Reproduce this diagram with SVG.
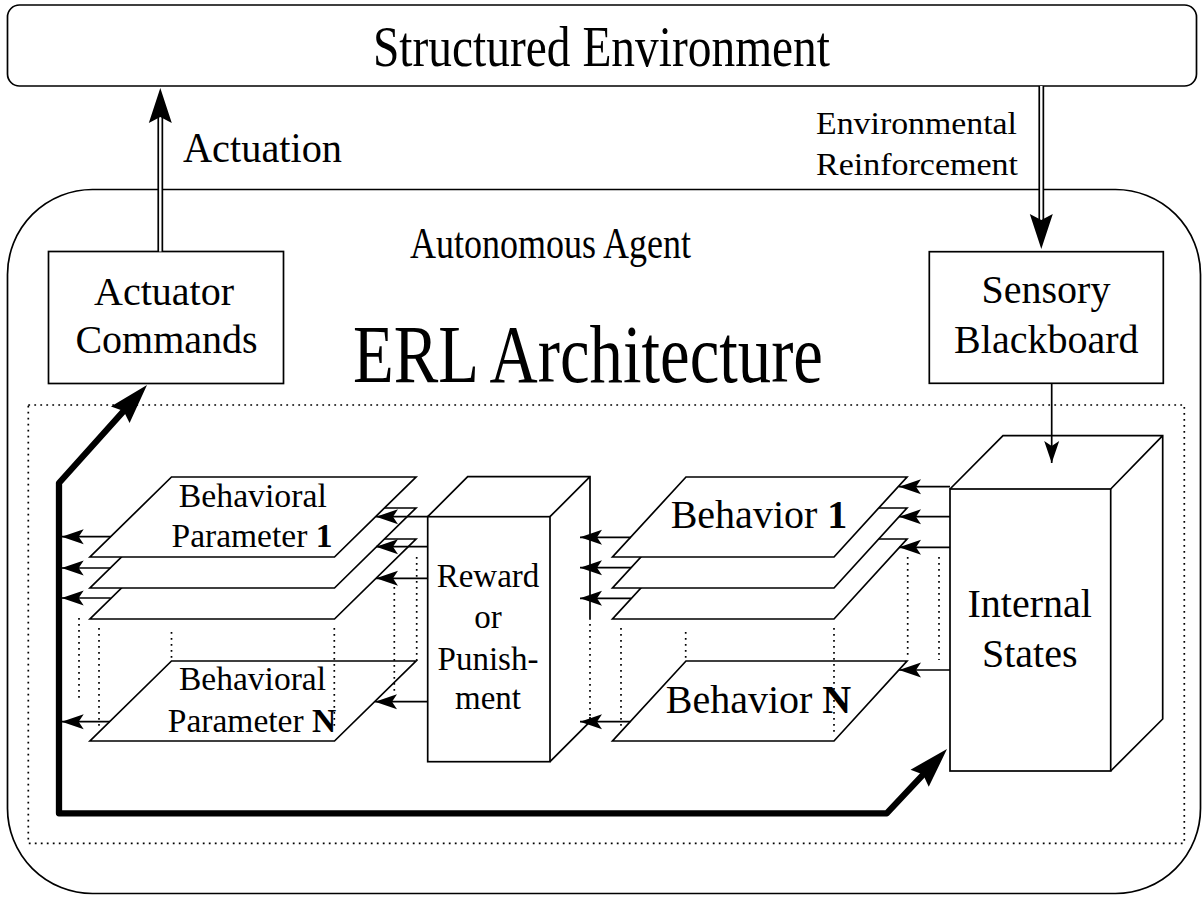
<svg xmlns="http://www.w3.org/2000/svg" width="1202" height="897" viewBox="0 0 1202 897">
<style>
.ln{fill:none;stroke:#000;stroke-width:1.7}
.box{fill:#fff;stroke:#000;stroke-width:1.7}
.face{fill:#fff;stroke:none}
.dot{fill:none;stroke:#000;stroke-width:1.7;stroke-dasharray:1.8 4.2}
.thick{fill:none;stroke:#000;stroke-width:6.3;stroke-linejoin:round}
.dblo{fill:none;stroke:#000;stroke-width:5.8}
.dbli{fill:none;stroke:#fff;stroke-width:2.4}
.c{text-anchor:middle}
.b{font-weight:bold}
</style>
<defs>
<marker id="ah" markerUnits="userSpaceOnUse" markerWidth="30" markerHeight="20" refX="0" refY="0" orient="auto" overflow="visible"><path d="M0,0 L-22,-7.5 L-17,0 L-22,7.5 Z" fill="#000"/></marker>
<marker id="bh" markerUnits="userSpaceOnUse" markerWidth="50" markerHeight="30" refX="0" refY="0" orient="auto-start-reverse" overflow="visible"><path d="M25,0 L-15,-12.5 L-10,0 L-15,12.5 Z" fill="#000"/></marker>
<marker id="dh" markerUnits="userSpaceOnUse" markerWidth="40" markerHeight="30" refX="0" refY="0" orient="auto" overflow="visible"><path d="M20,0 L-15,-11.5 L-9,0 L-15,11.5 Z" fill="#000"/></marker>
</defs>
<rect width="1202" height="897" fill="#fff"/>

<g font-family="Liberation Serif, Times New Roman, serif" fill="#000">
<g id="environment">
<rect class="box" x="7.5" y="5" width="1189" height="81" rx="12"/>
<text class="c" x="601.5" y="66" font-size="56" textLength="457" lengthAdjust="spacingAndGlyphs">Structured Environment</text>
</g>

<g id="agent">
<rect class="box" x="7.5" y="189.5" width="1193" height="704" rx="85"/>
<text class="c" x="550.5" y="258.3" font-size="45" textLength="281" lengthAdjust="spacingAndGlyphs">Autonomous Agent</text>
</g>

<g id="labels">
<text x="183" y="161.7" font-size="42" textLength="159" lengthAdjust="spacingAndGlyphs">Actuation</text>
<text x="816" y="134" font-size="32" textLength="201" lengthAdjust="spacingAndGlyphs">Environmental</text>
<text x="816" y="175" font-size="32" textLength="202" lengthAdjust="spacingAndGlyphs">Reinforcement</text>
<text class="c" x="588" y="381.7" font-size="82" textLength="470" lengthAdjust="spacingAndGlyphs">ERL Architecture</text>
</g>

<g id="erl-region">
<rect class="dot" x="28.3" y="405" width="1156" height="438.3"/>
</g>

<g id="actuator">
<rect class="box" x="48.5" y="251.5" width="235" height="132"/>
<text class="c" x="164" y="305" font-size="40">Actuator</text>
<text class="c" x="166.5" y="353.3" font-size="40">Commands</text>
</g>

<g id="sensory">
<rect class="box" x="929.3" y="251.7" width="234" height="131.6"/>
<text class="c" x="1046" y="303.3" font-size="40">Sensory</text>
<text class="c" x="1046.3" y="353.3" font-size="40">Blackboard</text>
</g>

<g id="internal-states">
<polygon class="face" points="950,489 1003,435.7 1162.7,435.7 1162.7,719 1110.7,771 950,771"/>
<rect class="ln" x="950" y="489" width="160.7" height="282"/>
<path class="ln" d="M950,489 L1003,435.7 H1162.7 V719 L1110.7,771 M1110.7,489 L1162.7,435.7"/>
<text class="c" x="1029.7" y="617.3" font-size="40">Internal</text>
<text class="c" x="1029.7" y="666.7" font-size="40">States</text>
</g>

<g id="reward">
<polygon class="face" points="427.7,516.7 467.7,476.7 590,476.7 590,721.7 550,761.7 427.7,761.7"/>
<rect class="ln" x="427.7" y="516.7" width="122.3" height="245"/>
<path class="ln" d="M427.7,516.7 L467.7,476.7 H590 V618 M590,717 V721.7 L550,761.7 M550,516.7 L590,476.7"/>
<text class="c" x="488" y="586.7" font-size="33">Reward</text>
<text class="c" x="488" y="628.3" font-size="33">or</text>
<text class="c" x="488" y="670" font-size="33">Punish-</text>
<text class="c" x="488" y="709.3" font-size="33">ment</text>
</g>

<g id="behavior-3"><polygon class="box" points="686,539 907,539 834,619 612.5,619"/></g>
<g id="behavior-2"><polygon class="box" points="686,508 907,508 834,588 612.5,588"/></g>
<g id="behavior-1">
<polygon class="box" points="686,477 907,477 834,557 612.5,557"/>
<text class="c" x="759" y="528" font-size="40">Behavior <tspan class="b">1</tspan></text>
</g>
<g id="behavior-n">
<polygon class="box" points="686,661 907,661 834,741 612.5,741"/>
<text class="c" x="758.5" y="713" font-size="40">Behavior <tspan class="b">N</tspan></text>
</g>

<g id="param-3"><polygon class="box" points="171.5,539 416,539 334.5,619 90,619"/></g>
<g id="param-2"><polygon class="box" points="171.5,508 416,508 334.5,588 90,588"/></g>
<g id="param-1">
<polygon class="box" points="171.5,477 416,477 334.5,557 90,557"/>
<text class="c" x="252.8" y="506.7" font-size="33.5" textLength="148" lengthAdjust="spacingAndGlyphs">Behavioral</text>
<text class="c" x="252" y="546.7" font-size="33.5">Parameter <tspan class="b">1</tspan></text>
</g>
<g id="param-n">
<polygon class="box" points="171.5,661 416,661 334.5,741 90,741"/>
<text class="c" x="252.5" y="690" font-size="33.5" textLength="147" lengthAdjust="spacingAndGlyphs">Behavioral</text>
<text class="c" x="252" y="731.7" font-size="33.5">Parameter <tspan class="b">N</tspan></text>
</g>
</g>

<g id="connectors">
<path class="dblo" d="M160.3,251.5 V108"/>
<path class="dbli" d="M160.3,251.5 V108" marker-end="url(#dh)"/>
<path class="dblo" d="M1041.3,86 V229"/>
<path class="dbli" d="M1041.3,86 V229" marker-end="url(#dh)"/>
<path class="ln" d="M1051.7,383.3 V463" marker-end="url(#ah)"/>
<path class="ln" d="M950,486.7 H899" marker-end="url(#ah)"/>
<path class="ln" d="M950,516.7 H899" marker-end="url(#ah)"/>
<path class="ln" d="M950,547.3 H899" marker-end="url(#ah)"/>
<path class="ln" d="M950,670 H899" marker-end="url(#ah)"/>
<path class="ln" d="M631,537.3 H580" marker-end="url(#ah)"/>
<path class="ln" d="M631,567.7 H580" marker-end="url(#ah)"/>
<path class="ln" d="M631,598.3 H580" marker-end="url(#ah)"/>
<path class="ln" d="M630.5,721.7 H580" marker-end="url(#ah)"/>
<path class="ln" d="M427.7,516.7 H376" marker-end="url(#ah)"/>
<path class="ln" d="M427.7,546.7 H376" marker-end="url(#ah)"/>
<path class="ln" d="M427.7,578.3 H376" marker-end="url(#ah)"/>
<path class="ln" d="M427.7,701.7 H375" marker-end="url(#ah)"/>
<path class="ln" d="M110.7,536.7 H61.7" marker-end="url(#ah)"/>
<path class="ln" d="M110.7,568 H61.7" marker-end="url(#ah)"/>
<path class="ln" d="M110.7,598 H61.7" marker-end="url(#ah)"/>
<path class="ln" d="M110,721.7 H61.7" marker-end="url(#ah)"/>
<path class="thick" d="M130.3,403.6 L59,483 V813.3 H886.7 L929.9,767.3" marker-start="url(#bh)" marker-end="url(#bh)"/>
<path class="dot" d="M79,618 V702 M99,628 V728 M171.5,632 V661 M334.3,628 V728 M394.3,587 V693 M416.7,557 V661"/>
<path class="dot" d="M590,618 V717 M621,628 V727 M685.7,632 V661 M834,628 V733 M907.7,557 V656 M939,557 V660"/>
</g>
</svg>
